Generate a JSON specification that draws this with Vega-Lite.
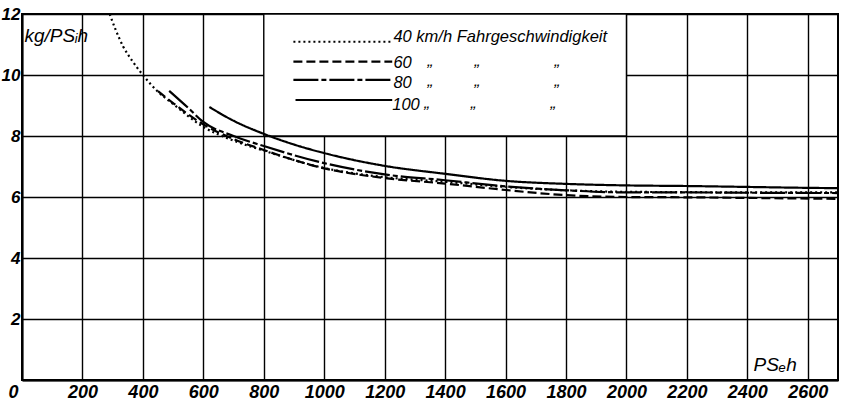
{
  "$schema": "https://vega.github.io/schema/vega-lite/v6.json",
  "autosize": {"type": "none"},
  "padding": {"left": 22, "top": 14, "right": 7, "bottom": 22},
  "width": 816,
  "height": 366,
  "background": "white",
  "config": {
    "view": {"stroke": "black", "strokeWidth": 2},
    "font": "Liberation Sans",
    "axis": {
      "labelFont": "Liberation Sans",
      "titleFont": "Liberation Sans",
      "labelFontStyle": "italic",
      "titleFontStyle": "italic",
      "labelFontWeight": "bold",
      "labelColor": "black",
      "titleColor": "black",
      "labelFontSize": 18,
      "titleFontSize": 19,
      "titleFontWeight": "normal",
      "ticks": false,
      "domainColor": "black",
      "domainWidth": 2,
      "grid": true,
      "gridColor": "black",
      "gridWidth": 1.4,
      "gridOpacity": 1,
      "labelOverlap": false,
      "labelFlush": false,
      "labelBound": false
    }
  },
  "datasets": {
    "curves": [
      {"speed": "40", "x": 290, "y": 12.0},
      {"speed": "40", "x": 310, "y": 11.48},
      {"speed": "40", "x": 335, "y": 10.93},
      {"speed": "40", "x": 363, "y": 10.49},
      {"speed": "40", "x": 400, "y": 10.0},
      {"speed": "40", "x": 450, "y": 9.45},
      {"speed": "40", "x": 500, "y": 9.05},
      {"speed": "40", "x": 600, "y": 8.3},
      {"speed": "40", "x": 700, "y": 7.85},
      {"speed": "40", "x": 800, "y": 7.52},
      {"speed": "40", "x": 1000, "y": 6.95},
      {"speed": "40", "x": 1200, "y": 6.65},
      {"speed": "40", "x": 1400, "y": 6.5},
      {"speed": "40", "x": 1600, "y": 6.33},
      {"speed": "40", "x": 1800, "y": 6.22},
      {"speed": "40", "x": 2000, "y": 6.17},
      {"speed": "40", "x": 2200, "y": 6.16},
      {"speed": "40", "x": 2400, "y": 6.15},
      {"speed": "40", "x": 2700, "y": 6.15},
      {"speed": "60", "x": 450, "y": 9.47},
      {"speed": "60", "x": 500, "y": 9.08},
      {"speed": "60", "x": 600, "y": 8.38},
      {"speed": "60", "x": 700, "y": 7.9},
      {"speed": "60", "x": 800, "y": 7.54},
      {"speed": "60", "x": 1000, "y": 6.94},
      {"speed": "60", "x": 1200, "y": 6.62},
      {"speed": "60", "x": 1400, "y": 6.44},
      {"speed": "60", "x": 1600, "y": 6.23},
      {"speed": "60", "x": 1800, "y": 6.06},
      {"speed": "60", "x": 2000, "y": 6.0},
      {"speed": "60", "x": 2200, "y": 5.99},
      {"speed": "60", "x": 2400, "y": 5.97},
      {"speed": "60", "x": 2700, "y": 5.94},
      {"speed": "80", "x": 487, "y": 9.48},
      {"speed": "80", "x": 550, "y": 8.92},
      {"speed": "80", "x": 600, "y": 8.46},
      {"speed": "80", "x": 700, "y": 8.0},
      {"speed": "80", "x": 800, "y": 7.67},
      {"speed": "80", "x": 1000, "y": 7.11},
      {"speed": "80", "x": 1200, "y": 6.74},
      {"speed": "80", "x": 1400, "y": 6.55},
      {"speed": "80", "x": 1600, "y": 6.35},
      {"speed": "80", "x": 1800, "y": 6.22},
      {"speed": "80", "x": 2000, "y": 6.15},
      {"speed": "80", "x": 2200, "y": 6.15},
      {"speed": "80", "x": 2400, "y": 6.14},
      {"speed": "80", "x": 2700, "y": 6.13},
      {"speed": "100", "x": 620, "y": 8.95},
      {"speed": "100", "x": 700, "y": 8.5},
      {"speed": "100", "x": 800, "y": 8.07},
      {"speed": "100", "x": 900, "y": 7.72},
      {"speed": "100", "x": 1000, "y": 7.44},
      {"speed": "100", "x": 1200, "y": 7.02},
      {"speed": "100", "x": 1400, "y": 6.76},
      {"speed": "100", "x": 1600, "y": 6.53},
      {"speed": "100", "x": 1800, "y": 6.43},
      {"speed": "100", "x": 2000, "y": 6.38},
      {"speed": "100", "x": 2200, "y": 6.36},
      {"speed": "100", "x": 2400, "y": 6.33},
      {"speed": "100", "x": 2600, "y": 6.3},
      {"speed": "100", "x": 2700, "y": 6.29}
    ],
    "legendBox": [{"x": 800, "x2": 2000, "y": 8, "y2": 12}],
    "legendLines": [
      {"speed": "40", "x": 898, "x2": 1219, "y": 11.09},
      {"speed": "60", "x": 898, "x2": 1225, "y": 10.44},
      {"speed": "80", "x": 898, "x2": 1225, "y": 9.84},
      {"speed": "100", "x": 905, "x2": 1225, "y": 9.18}
    ],
    "legendText": [
      {"t": "40 km/h Fahrgeschwindigkeit", "x": 1229, "y": 11.09},
      {"t": "60", "x": 1229, "y": 10.24},
      {"t": "80", "x": 1229, "y": 9.56},
      {"t": "100", "x": 1225, "y": 8.85}
    ],
    "dittos": [
      {"x": 1351, "y": 10.24}, {"x": 1507, "y": 10.24}, {"x": 1771, "y": 10.24},
      {"x": 1351, "y": 9.56}, {"x": 1507, "y": 9.56}, {"x": 1771, "y": 9.56},
      {"x": 1340, "y": 8.85}, {"x": 1494, "y": 8.85}, {"x": 1758, "y": 8.85}
    ]
  },
  "encoding": {
    "x": {
      "field": "x", "type": "quantitative",
      "scale": {"domain": [0, 2700], "nice": false, "zero": false},
      "axis": {
        "values": [0, 200, 400, 600, 800, 1000, 1200, 1400, 1600, 1800, 2000, 2200, 2400, 2600],
        "format": "d",
        "labelPadding": 3,
        "labelOffset": {"condition": {"test": "datum.value == 0", "value": -9}, "value": 0},
        "title": "PSₑh",
        "titleAngle": 0,
        "titleX": 731,
        "titleY": -10,
        "titleAlign": "left",
        "titleBaseline": "alphabetic"
      }
    },
    "y": {
      "field": "y", "type": "quantitative",
      "scale": {"domain": [0, 12], "nice": false},
      "axis": {
        "values": [0, 2, 4, 6, 8, 10, 12],
        "labelExpr": "datum.value == 0 ? '' : datum.label",
        "labelPadding": 2,
        "labelFontSize": 17,
        "labelBaseline": "middle",
        "title": "kg/PSᵢh",
        "titleAngle": 0,
        "titleX": 2,
        "titleY": 27,
        "titleAlign": "left",
        "titleBaseline": "alphabetic"
      }
    }
  },
  "layer": [
    {
      "data": {"name": "legendBox"},
      "mark": {"type": "rect", "fill": "white", "stroke": "black", "strokeWidth": 1.4},
      "encoding": {"x2": {"field": "x2"}, "y2": {"field": "y2"}}
    },
    {
      "data": {"name": "curves"},
      "mark": {"type": "line", "interpolate": "monotone", "color": "black", "strokeWidth": 2.2},
      "encoding": {
        "detail": {"field": "speed"},
        "strokeDash": {
          "field": "speed", "type": "nominal",
          "scale": {"domain": ["40", "60", "80", "100"], "range": [[2, 3], [9, 4], [25, 3, 5, 3], [1, 0]]},
          "legend": null
        }
      }
    },
    {
      "data": {"name": "legendLines"},
      "mark": {"type": "rule", "color": "black", "strokeWidth": 2.2},
      "encoding": {
        "x2": {"field": "x2"},
        "strokeDash": {"field": "speed", "type": "nominal", "legend": null}
      }
    },
    {
      "data": {"name": "legendText"},
      "mark": {"type": "text", "align": "left", "baseline": "alphabetic", "fontSize": 16.5, "fontStyle": "italic", "font": "Liberation Sans", "color": "black"},
      "encoding": {"text": {"field": "t"}}
    },
    {
      "data": {"name": "dittos"},
      "mark": {"type": "text", "align": "center", "baseline": "alphabetic", "dy": -2, "fontSize": 17, "fontStyle": "italic", "font": "Liberation Sans", "color": "black", "text": "„"},
      "encoding": {}
    }
  ]
}
